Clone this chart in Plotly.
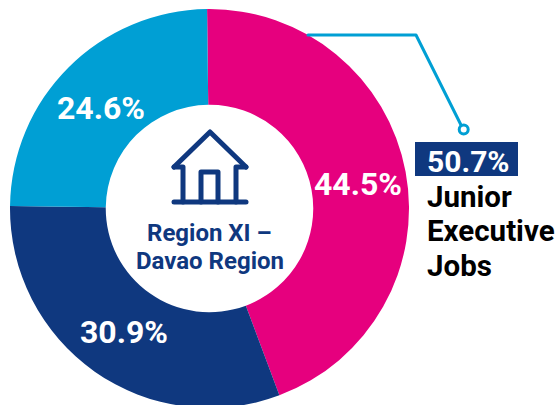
import plotly.graph_objects as go

categories = ["Pink share", "Navy share", "Blue share"]
values = [44.5, 30.9, 24.6]
colors = ["#E6007E", "#0F387F", "#009FD4"]
centre_lines = ["Region XI –", "Davao Region"]
callout_value = "50.7%"
callout_lines = ["Junior", "Executive", "Jobs"]

W, H = 556, 420
CX, CY, R = 209.5, 208.5, 199.5
NAVY, BLUE = "#0F387F", "#009FD4"

fig = go.Figure(go.Pie(
    labels=categories, values=values, hole=0.52, sort=False, direction="clockwise",
    rotation=-0.7, marker=dict(colors=colors, line=dict(width=0)), textinfo="none",
    hoverinfo="label+percent", showlegend=False,
    domain=dict(x=[(CX-R)/W, (CX+R)/W], y=[1-(CY+R)/H, 1-(CY-R)/H]),
))

def text(x, y, s, size, color, anchor="center"):
    fig.add_annotation(x=x, y=y, xref="x", yref="y", text=f"<b>{s}</b>", showarrow=False,
                       xanchor=anchor, yanchor="middle",
                       font=dict(family="Roboto", size=size, color=color))

label_pos = [(358, 184), (124, 332), (100.5, 108)]
for (x, y), v in zip(label_pos, values):
    text(x, y, f"{v}%", 32, "white")

text(209, 233, centre_lines[0], 24, NAVY)
text(210, 261, centre_lines[1], 24, NAVY)

# callout
line = dict(color=BLUE, width=3)
fig.add_shape(type="path", path="M 308 35 L 416 35 L 461 125", line=line, xref="x", yref="y")
fig.add_shape(type="circle", x0=459.2, x1=468.2, y0=125, y1=134, line=line, fillcolor="white", xref="x", yref="y")
fig.add_shape(type="rect", x0=415, x1=518, y0=142, y1=176, fillcolor=NAVY, line=dict(width=0), xref="x", yref="y")
text(425, 161, callout_value, 30, "white", "left")
for y, s in zip((197, 231, 266), callout_lines):
    text(425, y, s, 29.5, "black", "left")

# house icon
icon = dict(color=NAVY, width=5)
for p in ["M 174 167 L 210 132 L 246 167",
          "M 174 167 L 183 167 L 183 202",
          "M 246 167 L 236 167 L 236 202",
          "M 174 202 L 246 202",
          "M 201 202 L 201 172 L 218 172 L 218 202"]:
    fig.add_shape(type="path", path=p, line=icon, xref="x", yref="y")

fig.update_layout(
    width=W, height=H, margin=dict(l=0, r=0, t=0, b=0),
    paper_bgcolor="white", plot_bgcolor="rgba(0,0,0,0)",
    xaxis=dict(range=[0, W], visible=False, fixedrange=True),
    yaxis=dict(range=[H, 0], visible=False, fixedrange=True),
)
fig.write_html("out.html", config=dict(displayModeBar=False),
               post_script="document.body.style.margin='0';document.body.style.overflow='hidden';document.documentElement.style.overflow='hidden';"
                           "document.querySelectorAll('.shapelayer path').forEach(function(p){p.style.strokeLinecap='round';p.style.strokeLinejoin='round';});")
